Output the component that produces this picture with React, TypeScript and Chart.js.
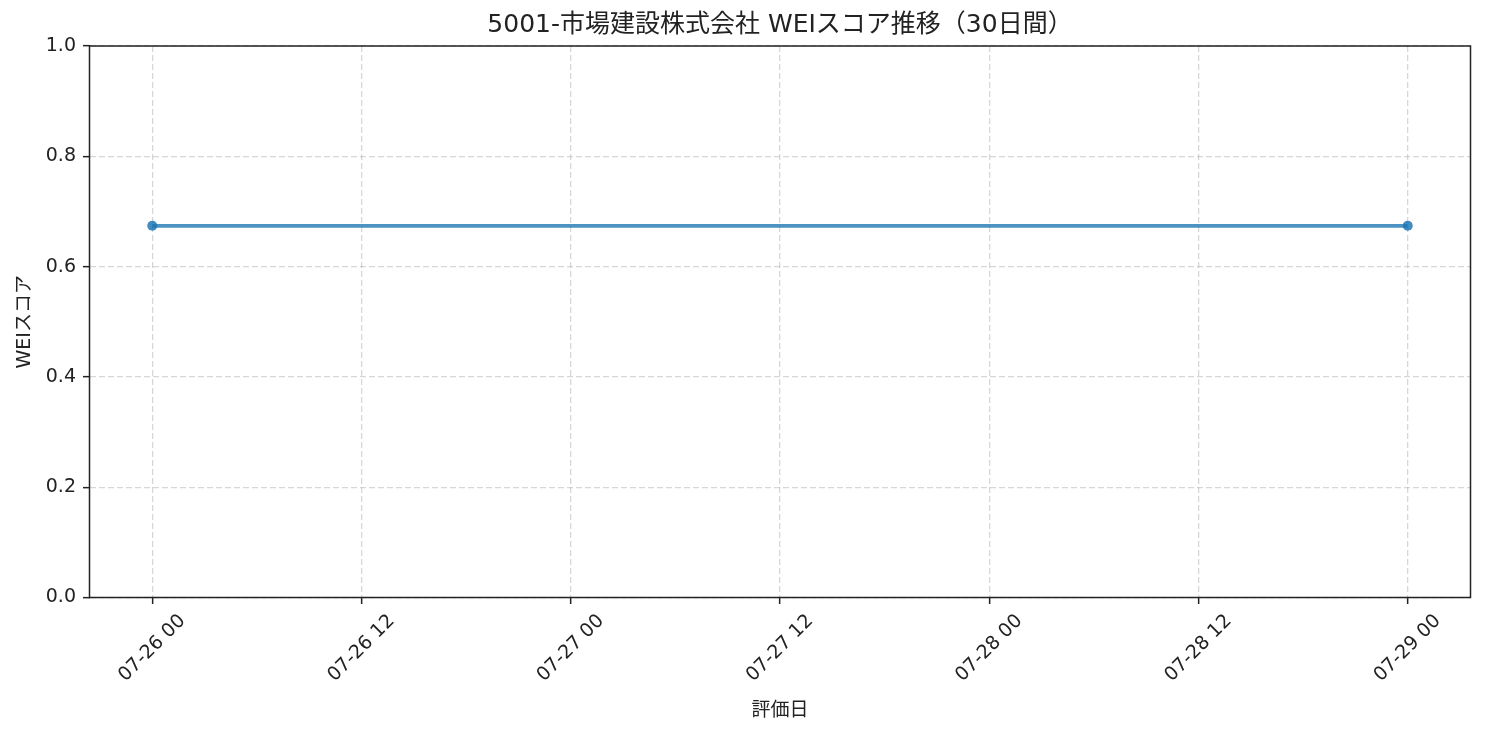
import { useEffect, useRef } from "react";
import { Chart, registerables } from "chart.js";

Chart.register(...registerables);

const FONT = '"DejaVu Sans", "Noto Sans CJK JP", sans-serif';

// data
const evalDates = ["07-26 00", "07-29 00"];
const weiScores = [0.674, 0.674];
const xTickLabels = ["07-26 00", "07-26 12", "07-27 00", "07-27 12", "07-28 00", "07-28 12", "07-29 00"];
const yTickValues = [0, 0.2, 0.4, 0.6, 0.8, 1.0];

const TITLE = "5001-市場建設株式会社 WEIスコア推移（30日間）";
const X_TITLE = "評価日";
const Y_TITLE = "WEIスコア";

// "MM-DD HH" -> hours since the first evaluation date
function toHours(label: string): number {
  const [md, hh] = label.split(" ");
  const [mm, dd] = md.split("-").map(Number);
  const [bm, bd] = evalDates[0].split(" ")[0].split("-").map(Number);
  const t = Date.UTC(2025, mm - 1, dd, Number(hh));
  const base = Date.UTC(2025, bm - 1, bd, 0);
  return (t - base) / 3600000;
}

const TICK_SIZE = 19;

// matplotlib style frame, title over the axes, centred 45° x tick labels
const framePlugin = {
  id: "frame",
  afterDraw(chart: Chart) {
    const { ctx, chartArea } = chart;
    const xs = chart.scales.x;
    ctx.save();
    ctx.strokeStyle = "#222";
    ctx.lineWidth = 1.5;
    ctx.strokeRect(chartArea.left, chartArea.top, chartArea.right - chartArea.left, chartArea.bottom - chartArea.top);

    ctx.fillStyle = "#222";
    ctx.textAlign = "center";
    ctx.textBaseline = "middle";
    ctx.font = `25px ${FONT}`;
    ctx.fillText(TITLE, (chartArea.left + chartArea.right) / 2, 25);

    ctx.font = `${TICK_SIZE}px ${FONT}`;
    const y0 = chartArea.bottom + 6.5 + 7;
    const h = TICK_SIZE * 1.05;
    xTickLabels.forEach((lab) => {
      const x = xs.getPixelForValue(toHours(lab));
      const w = ctx.measureText(lab).width;
      const half = (w + h) / (2 * Math.SQRT2);
      ctx.save();
      ctx.translate(x, y0 + half);
      ctx.rotate(-Math.PI / 4);
      ctx.fillText(lab, 0, 0);
      ctx.restore();
    });
    ctx.restore();
  },
};

export default function App() {
  const canvasRef = useRef<HTMLCanvasElement>(null);
  const chartRef = useRef<Chart | null>(null);

  useEffect(() => {
    if (!canvasRef.current) return;
    chartRef.current?.destroy();

    const pts = evalDates.map((d, i) => ({ x: toHours(d), y: weiScores[i] }));
    const first = toHours(evalDates[0]);
    const last = toHours(evalDates[evalDates.length - 1]);
    const margin = (last - first) * 0.05;

    chartRef.current = new Chart(canvasRef.current, {
      type: "line",
      data: {
        datasets: [
          {
            data: pts,
            borderColor: "rgba(31,119,180,0.8)",
            backgroundColor: "rgba(31,119,180,0.8)",
            borderWidth: 3.8,
            pointRadius: 5,
            pointBorderWidth: 0,
            pointBackgroundColor: "rgba(31,119,180,0.85)",
            tension: 0,
          },
        ],
      },
      options: {
        animation: false,
        responsive: true,
        maintainAspectRatio: false,
        layout: { padding: { left: 0, right: 14.5, top: 46, bottom: 0 } },
        plugins: {
          legend: { display: false },
          tooltip: { enabled: false },
          title: { display: false },
        },
        scales: {
          x: {
            type: "linear",
            min: first - margin,
            max: last + margin,
            afterBuildTicks: (scale: any) => {
              scale.ticks = xTickLabels.map((l) => ({ value: toHours(l) }));
            },
            afterFit: (scale: any) => {
              scale.height = 137.5;
            },
            ticks: { display: false },
            grid: {
              color: "rgba(176,176,176,0.5)",
              lineWidth: 1.3,
              tickLength: 6.5,
              tickColor: "#222",
              tickWidth: 1.5,
              tickBorderDash: [],
            },
            border: { display: false, dash: [6, 3] },
            title: {
              display: true,
              text: X_TITLE,
              color: "#222",
              font: { family: FONT, size: TICK_SIZE, lineHeight: 1.2 },
              padding: { top: 0, bottom: 13 },
            },
          },
          y: {
            min: 0,
            max: 1,
            afterBuildTicks: (scale: any) => {
              scale.ticks = yTickValues.map((v) => ({ value: v }));
            },
            afterFit: (scale: any) => {
              scale.width = 89.5;
            },
            ticks: {
              color: "#222",
              font: { family: FONT, size: TICK_SIZE },
              padding: 7,
              callback: (v: any) => Number(v).toFixed(1),
            },
            grid: {
              color: "rgba(176,176,176,0.5)",
              lineWidth: 1.3,
              tickLength: 6.5,
              tickColor: "#222",
              tickWidth: 1.5,
              tickBorderDash: [],
            },
            border: { display: false, dash: [6, 3] },
            title: {
              display: true,
              text: Y_TITLE,
              color: "#222",
              font: { family: FONT, size: TICK_SIZE, lineHeight: 1.2 },
              padding: { top: 13.6, bottom: 0 },
            },
          },
        },
      },
      plugins: [framePlugin],
    });

    return () => {
      chartRef.current?.destroy();
      chartRef.current = null;
    };
  }, []);

  return (
    <div style={{ position: "absolute", left: 0, top: 0, width: 1485, height: 735, background: "#fff" }}>
      <canvas ref={canvasRef} />
    </div>
  );
}
